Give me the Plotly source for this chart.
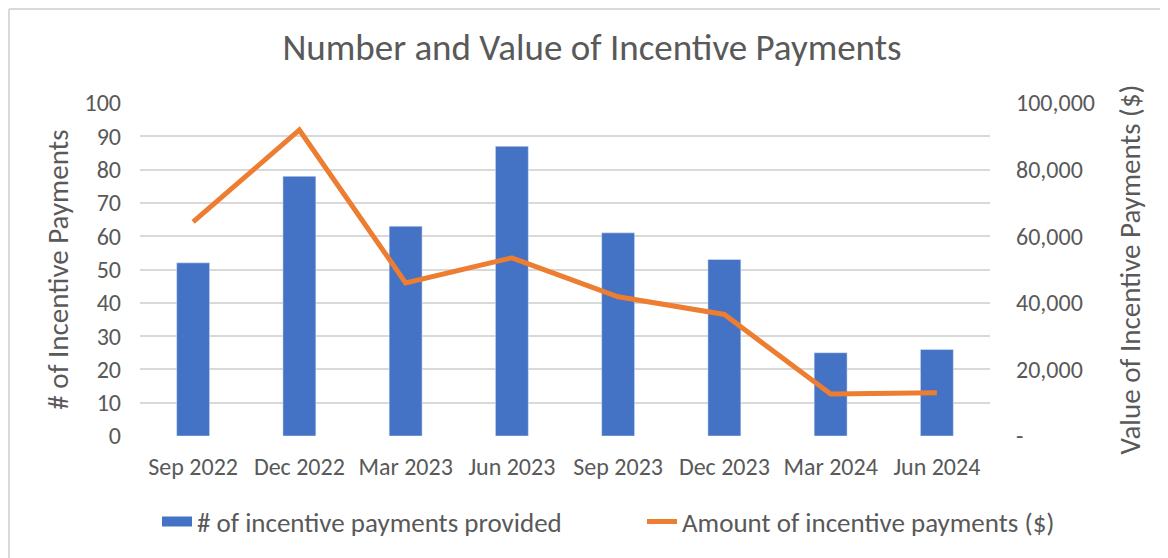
import plotly.graph_objects as go

categories = ["Sep 2022", "Dec 2022", "Mar 2023", "Jun 2023", "Sep 2023", "Dec 2023", "Mar 2024", "Jun 2024"]
num_payments = [52, 78, 63, 87, 61, 53, 25, 26]
amount_payments = [64300, 91900, 46000, 53500, 41800, 36500, 12600, 13000]
right_tickvals = [0, 20000, 40000, 60000, 80000, 100000]
right_ticktext = ["-", "20,000", "40,000", "60,000", "80,000", "100,000"]

FONT = "Carlito, Calibri, Lato, sans-serif"
GREY = "#595959"
BLUE = "#4472c4"
ORANGE = "#ed7d31"

# page is drawn with an 8px body margin, so figure coords = page coords - 8
W, H = 1160, 550
L, R, T, B = 132, 178, 95, 122
pw, ph = W - L - R, H - T - B

fig = go.Figure()
fig.add_trace(go.Bar(
    x=categories, y=num_payments, name="# of incentive payments provided",
    marker=dict(color=BLUE), width=0.31, yaxis="y", showlegend=False,
))
# legend proxy giving a wide rectangular swatch like the original
fig.add_trace(go.Scatter(
    x=[categories[0]], y=[None], name="# of incentive payments provided",
    mode="lines", line=dict(color=BLUE, width=14), yaxis="y", legend="legend", showlegend=True,
    hoverinfo="skip",
))
fig.add_trace(go.Scatter(
    x=categories, y=amount_payments, name="Amount of incentive payments ($)",
    mode="lines", line=dict(color=ORANGE, width=5), yaxis="y2", legend="legend2", showlegend=True,
))

leg_y = -(514 - (H - B)) / ph

fig.update_layout(
    width=W, height=H,
    margin=dict(l=L, r=R, t=T, b=B, autoexpand=False),
    paper_bgcolor="white", plot_bgcolor="white",
    showlegend=True,
    font=dict(family=FONT, color=GREY, size=22),
    title=dict(text="Number and Value of Incentive Payments", x=584 / W, xanchor="center",
               y=1 - 39 / H, yanchor="middle", font=dict(size=37, color=GREY, family=FONT)),
    xaxis=dict(type="category", showgrid=False, showline=False, ticks="", automargin=False,
               tickfont=dict(size=24, color=GREY), ticklabelstandoff=14),
    yaxis=dict(range=[0, 100], tickvals=list(range(0, 101, 10)), showgrid=True, automargin=False,
               gridcolor="#d9d9d9", gridwidth=1.8, zeroline=False, showline=False,
               ticks="", tickfont=dict(size=24, color=GREY), ticklabelstandoff=18,
               title=dict(text="# of Incentive Payments", font=dict(size=29, color=GREY), standoff=7)),
    yaxis2=dict(range=[0, 100000], overlaying="y", side="right", tickvals=right_tickvals, automargin=False,
                ticktext=right_ticktext, showgrid=False, zeroline=False, showline=False,
                ticks="", tickfont=dict(size=24, color=GREY), ticklabelstandoff=25,
                title=dict(text="Value of Incentive Payments ($)", font=dict(size=29, color=GREY), standoff=25)),
    legend=dict(orientation="h", x=(149 - L) / pw, xanchor="left", y=leg_y, yanchor="middle",
                font=dict(size=27, color=GREY), bgcolor="rgba(0,0,0,0)"),
    legend2=dict(orientation="h", x=(634 - L) / pw, xanchor="left", y=leg_y, yanchor="middle",
                 font=dict(size=27, color=GREY), bgcolor="rgba(0,0,0,0)"),
    shapes=[
        dict(type="line", xref="paper", yref="paper", x0=(1 - L) / pw, x1=(W - L) / pw,
             y0=(H - B - 1) / ph, y1=(H - B - 1) / ph, line=dict(color="#d9d9d9", width=2), layer="below"),
        dict(type="line", xref="paper", yref="paper", x0=(1 - L) / pw, x1=(1 - L) / pw,
             y0=-B / ph, y1=(H - B - 1) / ph, line=dict(color="#d9d9d9", width=2), layer="below"),
    ],
)

fig.write_html("out.html")
